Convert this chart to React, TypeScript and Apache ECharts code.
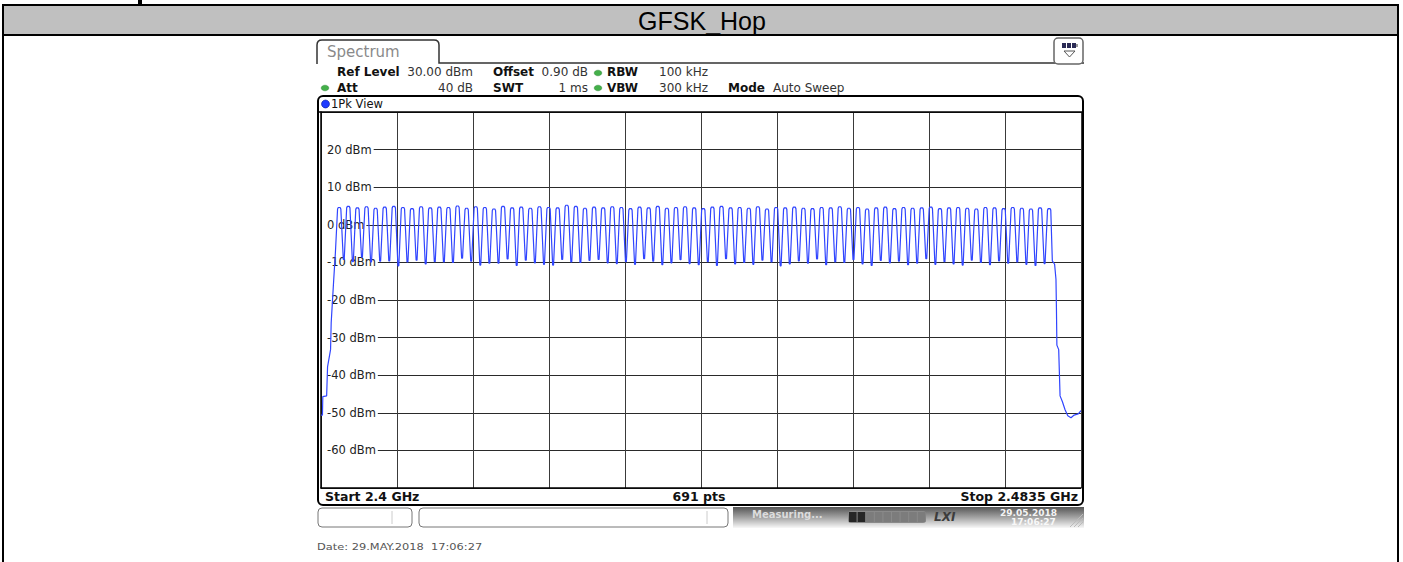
import React, { useEffect, useRef } from "react";
import * as echarts from "echarts";

// ---------- data ----------
const TITLE = "GFSK_Hop";
const SPAN_MHZ = 83.5; // 2.4 GHz .. 2.4835 GHz, axis value = MHz offset from 2.4 GHz
const X_DIV = 8.35; // one grid division
const Y_MIN = -70;
const Y_MAX = 30;
const Y_STEP = 10;
const CH0_OFFSET = 2; // channel 0 at 2402 MHz
const CH_SPACING = 1;

// peak level of each hopping channel (79 channels), dBm
const PEAK_DBM = [
  4.6, 4.9, 4.5, 4.8, 4.4, 4.7, 4.9, 4.6, 4.3, 4.8,
  4.5, 4.7, 4.6, 5.0, 4.4, 4.8, 4.6, 4.2, 4.9, 4.5,
  4.7, 4.4, 4.8, 4.6, 4.5, 5.2, 4.9, 4.4, 4.7, 4.5,
  4.8, 4.6, 4.3, 4.7, 4.5, 4.9, 4.4, 4.6, 4.8, 4.5,
  4.3, 4.7, 4.9, 4.5, 4.6, 4.4, 4.8, 4.2, 4.6, 4.5,
  4.7, 4.4, 4.3, 4.6, 4.5, 4.8, 4.4, 4.6, 4.2, 4.5,
  4.7, 4.3, 4.6, 4.4, 4.5, 4.7, 4.3, 4.5, 4.6, 4.4,
  4.2, 4.6, 4.5, 4.3, 4.6, 4.4, 4.2, 4.5, 4.3,
];
// level between neighbouring channels (78 gaps), dBm
const DIP_DBM = [
  -9.2, -9.8, -8.6, -9.9, -9.7, -9.6, -10.9, -9.9, -9.4, -10.4,
  -9.8, -9.9, -10.0, -8.9, -9.7, -10.7, -10.2, -10.2, -9.1, -10.8,
  -9.4, -10.1, -10.5, -10.7, -9.2, -9.9, -10.0, -9.5, -9.2, -10.1,
  -10.3, -9.8, -10.5, -9.0, -9.7, -10.6, -10.1, -9.3, -10.3, -10.6,
  -9.8, -10.8, -9.0, -10.4, -10.0, -10.5, -9.4, -9.9, -10.9, -10.4,
  -9.6, -10.2, -9.1, -10.6, -9.9, -10.0, -9.3, -10.4, -10.8, -9.5,
  -10.1, -9.7, -10.6, -10.2, -9.0, -10.5, -9.8, -10.4, -10.7, -9.4,
  -10.0, -10.6, -9.6, -10.2, -9.9, -10.5, -10.8, -10.3,
];
// lower band edge, [MHz offset, dBm]
const RISE_EDGE: [number, number][] = [
  [0, -50.6], [0.16, -50.6], [0.2, -45.7], [0.62, -45.5], [0.72, -37.8],
  [1.05, -33.2], [1.12, -26], [1.4, -14.5], [1.58, -7.5],
];
// upper band edge, [MHz offset, dBm]
const FALL_EDGE: [number, number][] = [
  [80.35, -9.6], [80.6, -10.5], [80.75, -14.5], [80.8, -22], [80.85, -32],
  [81.05, -33.2], [81.2, -45.5], [81.45, -47], [81.75, -49.2], [82.05, -50.8],
  [82.4, -51.3], [82.75, -50.6], [83.2, -50.3], [83.5, -49.4],
];

const FONT = "DejaVu Sans";

export default function App() {
  const ref = useRef<HTMLDivElement>(null);

  useEffect(() => {
    if (!ref.current) return;
    const chart = echarts.init(ref.current, undefined, { renderer: "svg" });

    const traceData: [number, number][] = [];
    RISE_EDGE.forEach((p) => traceData.push(p));
    PEAK_DBM.forEach((pk, k) => {
      const c = CH0_OFFSET + k * CH_SPACING;
      traceData.push([c - 0.18, pk - 0.4], [c - 0.1, pk], [c + 0.1, pk], [c + 0.18, pk - 0.4]);
      if (k < DIP_DBM.length) {
        traceData.push([c + 0.45, DIP_DBM[k]], [c + 0.55, DIP_DBM[k]]);
      }
    });
    FALL_EDGE.forEach((p) => traceData.push(p));

    const tabPath =
      "M317 64 L317 45 Q317 40 322 40 L434 40 Q439 40 439 45 L439 63 L1084 63";
    echarts.graphic.registerShape("tabShape", echarts.graphic.extendPath(tabPath, {}) as any);

    const txt = (x: number, y: number, text: string, opt: any = {}, extra: any = {}) => ({
      type: "text",
      x,
      y,
      z: 10,
      ...extra,
      style: {
        text,
        fontFamily: FONT,
        fontSize: 12,
        fill: "#111",
        verticalAlign: "middle",
        align: "left",
        ...opt,
      },
    });
    const dot = (cx: number, cy: number) => ({
      type: "ellipse",
      z: 10,
      shape: { cx, cy, rx: 3.8, ry: 2.8 },
      style: { fill: "#44b04a", stroke: "#2f8a36", lineWidth: 0.5 },
    });

    const progress: any[] = [];
    for (let i = 0; i < 9; i++) {
      progress.push({
        type: "rect",
        z: 11,
        shape: { x: 849 + i * 8.6, y: 512, width: 7.6, height: 10 },
        style: { fill: i < 2 ? "#262626" : "#7c7c7c" },
      });
    }

    const graphic: any[] = [
      // outer document frame
      { type: "rect", z: 1, shape: { x: 2, y: 5, width: 1396, height: 30 }, style: { fill: "#c0c0c0" } },
      { type: "line", z: 2, shape: { x1: 2, y1: 5, x2: 1399, y2: 5 }, style: { stroke: "#000", lineWidth: 2 } },
      { type: "line", z: 2, shape: { x1: 2, y1: 35, x2: 1399, y2: 35 }, style: { stroke: "#000", lineWidth: 2 } },
      { type: "line", z: 2, shape: { x1: 3, y1: 4, x2: 3, y2: 562 }, style: { stroke: "#000", lineWidth: 2 } },
      { type: "line", z: 2, shape: { x1: 1398, y1: 4, x2: 1398, y2: 562 }, style: { stroke: "#000", lineWidth: 2 } },
      { type: "rect", z: 2, shape: { x: 138, y: 0, width: 4, height: 4 }, style: { fill: "#000" } },
      {
        type: "text",
        z: 3,
        x: 702,
        y: 21,
        style: {
          text: TITLE,
          fontFamily: "Liberation Sans",
          fontSize: 25,
          fill: "#000",
          align: "center",
          verticalAlign: "middle",
        },
      },
      // tab
      { type: "tabShape", z: 5, x: 0, y: 0, style: { fill: "none", stroke: "#333", lineWidth: 1.5 } },
      txt(327, 52, "Spectrum", { fontSize: 15, fill: "#8a8a8a" }),
      // icon
      { type: "rect", z: 6, shape: { x: 1054, y: 38, width: 29, height: 26, r: 4 }, style: { fill: "#fff", stroke: "#666", lineWidth: 1.5 } },
      { type: "rect", z: 7, shape: { x: 1062, y: 43, width: 14, height: 5 }, style: { fill: "#2a2a55" } },
      { type: "rect", z: 7, shape: { x: 1076, y: 44, width: 2, height: 3 }, style: { fill: "#999" } },
      { type: "line", z: 8, shape: { x1: 1066.5, y1: 43, x2: 1066.5, y2: 48 }, style: { stroke: "#fff", lineWidth: 1 } },
      { type: "line", z: 8, shape: { x1: 1071.5, y1: 43, x2: 1071.5, y2: 48 }, style: { stroke: "#fff", lineWidth: 1 } },
      { type: "polygon", z: 7, shape: { points: [[1064, 51], [1075, 51], [1069.5, 57]] }, style: { fill: "none", stroke: "#555", lineWidth: 1 } },
      // settings rows
      txt(337, 72, "Ref Level", { fontWeight: "bold" }),
      txt(473, 72, "30.00 dBm", { align: "right", fill: "#333" }),
      txt(493, 72, "Offset", { fontWeight: "bold" }),
      txt(588, 72, "0.90 dB", { align: "right", fill: "#333" }),
      dot(598, 73),
      txt(607, 72, "RBW", { fontWeight: "bold" }),
      txt(659, 72, "100 kHz", { fill: "#333" }),
      dot(325, 88),
      txt(337, 88, "Att", { fontWeight: "bold" }),
      txt(473, 88, "40 dB", { align: "right", fill: "#333" }),
      txt(493, 88, "SWT", { fontWeight: "bold" }),
      txt(588, 88, "1 ms", { align: "right", fill: "#333" }),
      dot(598, 88),
      txt(607, 88, "VBW", { fontWeight: "bold" }),
      txt(659, 88, "300 kHz", { fill: "#333" }),
      txt(728, 88, "Mode", { fontWeight: "bold" }),
      txt(773, 88, "Auto Sweep", { fill: "#333" }),
      // plot panel
      { type: "rect", z: 20, shape: { x: 318, y: 96, width: 765, height: 409, r: 5 }, style: { fill: "none", stroke: "#000", lineWidth: 2 } },
      { type: "circle", z: 20, shape: { cx: 325.5, cy: 104, r: 4 }, style: { fill: "#1f3cff", stroke: "#001a99", lineWidth: 0.6 } },
      txt(331, 104, "1Pk View", { fontSize: 11.5 }),
      { type: "line", z: 20, shape: { x1: 318, y1: 112, x2: 1083, y2: 112 }, style: { stroke: "#000", lineWidth: 1.5 } },
      txt(325, 496, "Start 2.4 GHz", { fontWeight: "bold", fontSize: 12.5 }),
      txt(699, 496, "691 pts", { fontWeight: "bold", align: "center", fontSize: 12.5 }),
      txt(1078, 496, "Stop 2.4835 GHz", { fontWeight: "bold", align: "right", fontSize: 12.5 }),
      // status bar
      { type: "rect", z: 10, shape: { x: 318, y: 508, width: 94, height: 19, r: 4 }, style: { fill: "#fff", stroke: "#777", lineWidth: 1 } },
      { type: "line", z: 11, shape: { x1: 392, y1: 511, x2: 392, y2: 524 }, style: { stroke: "#ccc", lineWidth: 1 } },
      { type: "rect", z: 10, shape: { x: 419, y: 508, width: 309, height: 19, r: 4 }, style: { fill: "#fff", stroke: "#777", lineWidth: 1 } },
      { type: "line", z: 11, shape: { x1: 707, y1: 511, x2: 707, y2: 524 }, style: { stroke: "#ccc", lineWidth: 1 } },
      {
        type: "rect",
        z: 10,
        shape: { x: 733, y: 507, width: 351, height: 21 },
        style: {
          fill: new echarts.graphic.LinearGradient(0, 0, 0, 1, [
            { offset: 0, color: "#555555" },
            { offset: 0.5, color: "#a4a4a4" },
            { offset: 1, color: "#f8f8f8" },
          ]),
        },
      },
      txt(752, 514, "Measuring...", { fontWeight: "bold", fontSize: 10, fill: "#dcdcdc" }, { z: 11 }),
      { type: "rect", z: 11, shape: { x: 848, y: 511, width: 78, height: 12, r: 3 }, style: { fill: "#8a8a8a" } },
      ...progress,
      txt(934, 517, "LXI", { fontWeight: "bold", fontStyle: "italic", fontSize: 12, fill: "#3c3c3c" }, { z: 11 }),
      txt(1000, 513, "29.05.2018", { fontWeight: "bold", fontSize: 9, fill: "#f4f4f4" }, { z: 11 }),
      txt(1011, 522, "17:06:27", { fontWeight: "bold", fontSize: 9, fill: "#f8f8f8" }, { z: 11 }),
      { type: "line", z: 11, shape: { x1: 1070, y1: 527, x2: 1083, y2: 514 }, style: { stroke: "#bbb", lineWidth: 1 } },
      { type: "line", z: 11, shape: { x1: 1074, y1: 527, x2: 1083, y2: 518 }, style: { stroke: "#bbb", lineWidth: 1 } },
      { type: "line", z: 11, shape: { x1: 1078, y1: 527, x2: 1083, y2: 522 }, style: { stroke: "#bbb", lineWidth: 1 } },
      // date stamp
      txt(317, 546, "Date: 29.MAY.2018  17:06:27", { fontSize: 9.5, fill: "#555" }, { scaleX: 1.2 }),
    ];

    chart.setOption({
      animation: false,
      backgroundColor: "#fff",
      grid: { left: 321, top: 112, width: 760, height: 376, containLabel: false },
      xAxis: {
        type: "value",
        min: 0,
        max: SPAN_MHZ,
        interval: X_DIV,
        axisLabel: { show: false },
        axisTick: { show: false },
        axisLine: { show: true, onZero: false, lineStyle: { color: "#000", width: 1.5 } },
        splitLine: { show: true, lineStyle: { color: "#3a3a3a", width: 1 } },
      },
      yAxis: {
        type: "value",
        min: Y_MIN,
        max: Y_MAX,
        interval: Y_STEP,
        axisTick: { show: false },
        axisLine: { show: true, onZero: false, lineStyle: { color: "#000", width: 1.5 } },
        splitLine: { show: true, lineStyle: { color: "#2a2a2a", width: 1 } },
        axisLabel: {
          inside: true,
          margin: 1,
          showMinLabel: false,
          showMaxLabel: false,
          formatter: (v: number) => `${v} dBm`,
          fontFamily: FONT,
          fontSize: 11.5,
          color: "#222",
          backgroundColor: "#fff",
          padding: [1, 2, 1, 5],
        },
      },
      series: [
        {
          type: "line",
          data: traceData,
          showSymbol: false,
          symbol: "none",
          clip: true,
          lineStyle: { color: "#3045ff", width: 1.2 },
          z: 5,
        },
      ],
      graphic,
    });

    return () => chart.dispose();
  }, []);

  return (
    <div
      ref={ref}
      style={{ position: "fixed", left: 0, top: 0, width: 1403, height: 562, background: "#fff" }}
    />
  );
}
